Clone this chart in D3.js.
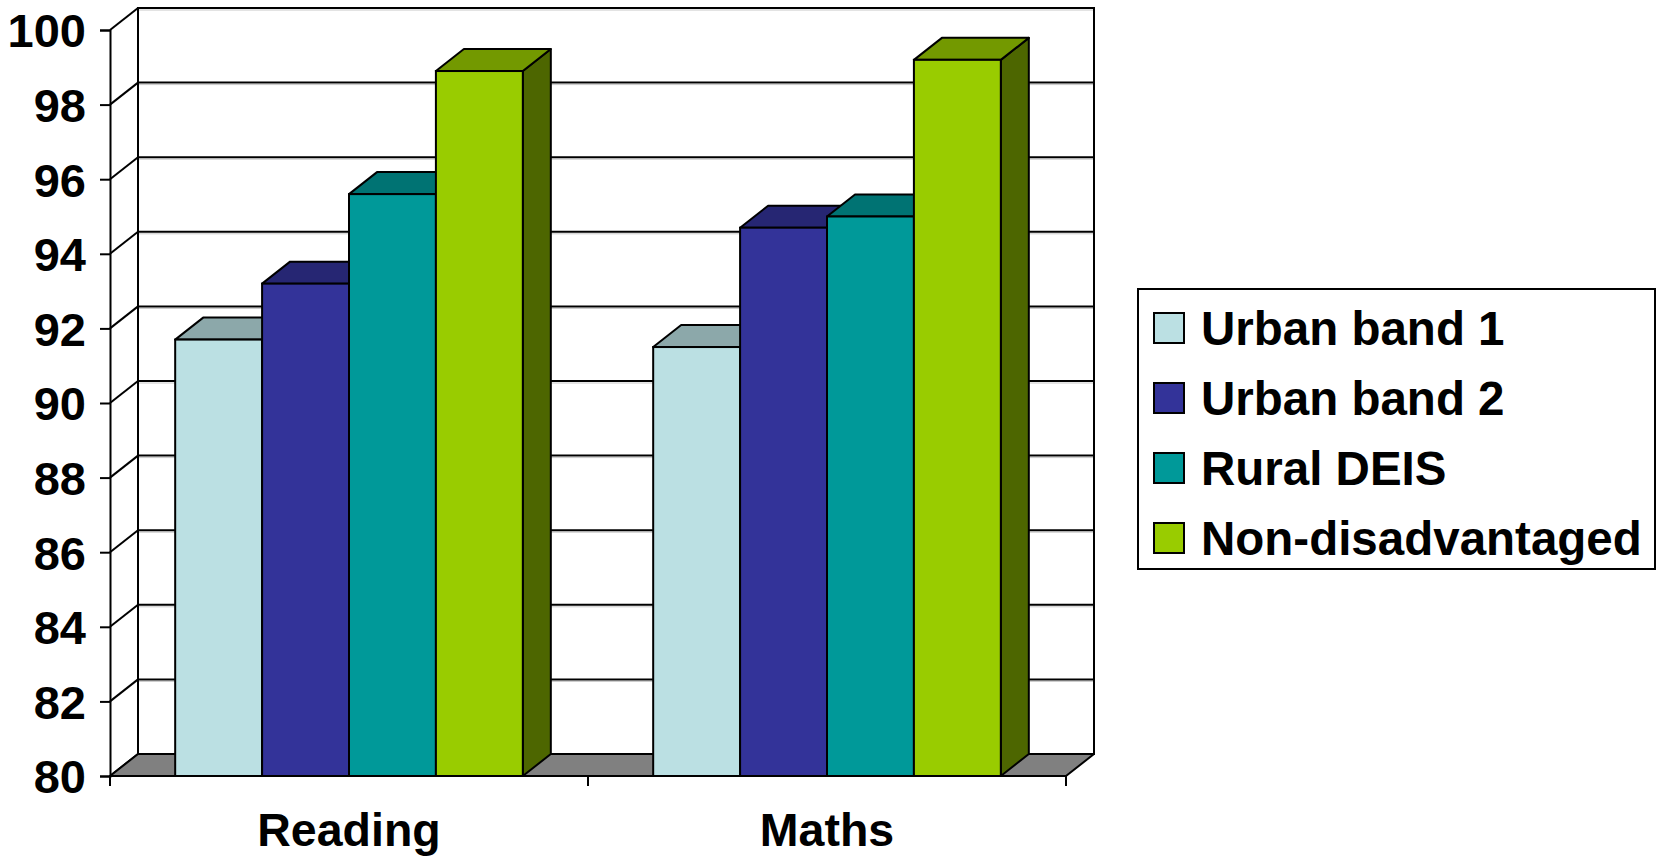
<!DOCTYPE html>
<html>
<head>
<meta charset="utf-8">
<script src="https://cdn.jsdelivr.net/npm/d3@7"></script>
<style>
  body { margin: 0; background: #fff; }
  svg { display: block; font-family: "Liberation Sans", Arial, sans-serif; font-weight: bold; }
</style>
</head>
<body>
<svg id="chart" width="1659" height="856"></svg>
<script>
// data
var categories = ["Reading", "Maths"];
var series = ["Urban band 1", "Urban band 2", "Rural DEIS", "Non-disadvantaged"];
var readingValues = [91.7, 93.2, 95.6, 98.9];
var mathsValues = [91.5, 94.7, 95.0, 99.2];
var yTicks = [80, 82, 84, 86, 88, 90, 92, 94, 96, 98, 100];
var colors = ["#BBE0E3", "#333399", "#009999", "#99CC00"];

var svg = d3.select("#chart");

// front plane of the plot and the depth offset of the 3d box
var plotLeft = 110, plotRight = 1066, plotTop = 30, plotBottom = 776;
var dx = 28, dy = -22;

var yScale = d3.scaleLinear().domain([80, 100]).range([plotBottom, plotTop]);
var xScale = d3.scaleBand().domain(categories).range([plotLeft, plotRight]);

// excel style gap width 150%
var barW = xScale.bandwidth() / (series.length + 1.5);
var xInner = d3.scaleBand().domain(series)
    .range([barW * 0.75, barW * 0.75 + barW * series.length]);

function shade(c, k) {
    var r = d3.rgb(c);
    return d3.rgb(r.r * k, r.g * k, r.b * k).toString();
}
function pts(a) { return a.map(function (p) { return p.join(","); }).join(" "); }

// back wall
svg.append("rect")
    .attr("x", plotLeft + dx).attr("y", plotTop + dy)
    .attr("width", plotRight - plotLeft).attr("height", plotBottom - plotTop)
    .attr("fill", "#fff");

// gridlines on back wall
var grid = svg.append("g");
yTicks.slice(1).forEach(function (v) {
    grid.append("line")
        .attr("x1", plotLeft + dx).attr("x2", plotRight + dx)
        .attr("y1", yScale(v) + dy + 2).attr("y2", yScale(v) + dy + 2)
        .attr("stroke", "#c8c8c8").attr("stroke-width", 1);
    grid.append("line")
        .attr("x1", plotLeft + dx).attr("x2", plotRight + dx)
        .attr("y1", yScale(v) + dy).attr("y2", yScale(v) + dy)
        .attr("stroke", "#000").attr("stroke-width", 2);
});

// back wall outline
svg.append("rect")
    .attr("x", plotLeft + dx).attr("y", plotTop + dy)
    .attr("width", plotRight - plotLeft).attr("height", plotBottom - plotTop)
    .attr("fill", "none").attr("stroke", "#000").attr("stroke-width", 2);

// left wall diagonals
yTicks.forEach(function (v) {
    svg.append("line")
        .attr("x1", plotLeft).attr("y1", yScale(v))
        .attr("x2", plotLeft + dx).attr("y2", yScale(v) + dy)
        .attr("stroke", "#000").attr("stroke-width", 2);
});

// floor
svg.append("polygon")
    .attr("points", pts([[plotLeft, plotBottom], [plotRight, plotBottom], [plotRight + dx, plotBottom + dy], [plotLeft + dx, plotBottom + dy]]))
    .attr("fill", "#808080").attr("stroke", "#000").attr("stroke-width", 2)
    .attr("stroke-linejoin", "round");

// y axis
var yAxis = svg.append("g")
    .attr("transform", "translate(" + plotLeft + ",0)")
    .call(d3.axisLeft(yScale).tickValues(yTicks).tickSize(10).tickPadding(14).tickFormat(d3.format("d")));
yAxis.select(".domain").attr("stroke", "#000").attr("stroke-width", 2);
yAxis.selectAll(".tick line").attr("stroke", "#000").attr("stroke-width", 2);
yAxis.selectAll(".tick text")
    .attr("fill", "#000").style("font-size", "47px").style("font-weight", "bold")
    .style("font-family", "'Liberation Sans', Arial, sans-serif")
    .attr("dy", "0.36em");

// category axis
svg.append("line")
    .attr("x1", plotLeft).attr("x2", plotRight)
    .attr("y1", plotBottom).attr("y2", plotBottom)
    .attr("stroke", "#000").attr("stroke-width", 2);
var bounds = categories.map(function (c) { return xScale(c); }).concat([plotRight]);
svg.selectAll(".ctick").data(bounds).enter().append("line")
    .attr("x1", function (d) { return d; }).attr("x2", function (d) { return d; })
    .attr("y1", plotBottom).attr("y2", plotBottom + 10)
    .attr("stroke", "#000").attr("stroke-width", 2);
svg.selectAll(".clabel").data(categories).enter().append("text")
    .attr("x", function (d) { return xScale(d) + xScale.bandwidth() / 2; })
    .attr("y", 846)
    .attr("text-anchor", "middle")
    .style("font-size", "46.5px")
    .text(function (d) { return d; });

// bars
var valuesByCat = { "Reading": readingValues, "Maths": mathsValues };
categories.forEach(function (cat) {
    var g = svg.append("g");
    series.forEach(function (s, i) {
        var v = valuesByCat[cat][i];
        var x0 = xScale(cat) + xInner(s), x1 = x0 + xInner.bandwidth();
        var y0 = yScale(80), y1 = yScale(v);
        var c = colors[i];
        g.append("polygon")
            .attr("points", pts([[x1, y0], [x1 + dx, y0 + dy], [x1 + dx, y1 + dy], [x1, y1]]))
            .attr("fill", shade(c, 0.5)).attr("stroke", "#000").attr("stroke-width", 2)
            .attr("stroke-linejoin", "round");
        g.append("polygon")
            .attr("points", pts([[x0, y1], [x1, y1], [x1 + dx, y1 + dy], [x0 + dx, y1 + dy]]))
            .attr("fill", shade(c, 0.75)).attr("stroke", "#000").attr("stroke-width", 2)
            .attr("stroke-linejoin", "round");
        g.append("rect")
            .attr("x", x0).attr("y", y1)
            .attr("width", x1 - x0).attr("height", y0 - y1)
            .attr("fill", c).attr("stroke", "#000").attr("stroke-width", 2);
    });
});

// legend
var legend = svg.append("g").attr("transform", "translate(1138,289)");
legend.append("rect")
    .attr("width", 517).attr("height", 280)
    .attr("fill", "#fff").attr("stroke", "#000").attr("stroke-width", 2);
series.forEach(function (s, i) {
    var cy = 39 + i * 70;
    legend.append("rect")
        .attr("x", 16).attr("y", cy - 15)
        .attr("width", 30).attr("height", 30)
        .attr("fill", colors[i]).attr("stroke", "#000").attr("stroke-width", 2);
    legend.append("text")
        .attr("x", 63).attr("y", cy + 17)
        .style("font-size", "47.5px")
        .text(s);
});
</script>
</body>
</html>
